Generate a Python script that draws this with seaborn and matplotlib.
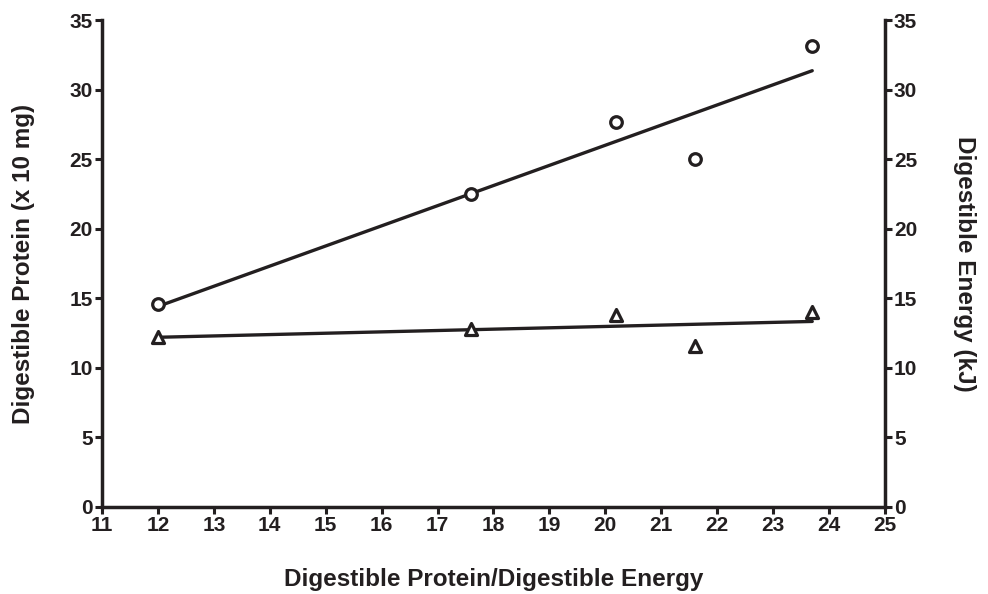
import numpy as np
import pandas as pd
import matplotlib
matplotlib.use("Agg")
import matplotlib.pyplot as plt
import seaborn as sns

# dietary DP/DE ratio and the two responses
ratio = [12.0, 17.6, 20.2, 21.6, 23.7]
protein = [14.6, 22.5, 27.7, 25.0, 33.1]   # digestible protein (x 10 mg)
energy = [12.2, 12.8, 13.8, 11.6, 14.0]    # digestible energy (kJ)
xticks = list(range(11, 26))
yticks = list(range(0, 36, 5))

ink = '#231f20'

sns.set_style("ticks")
plt.rcParams['font.family'] = ['Liberation Sans', 'DejaVu Sans']
plt.rcParams['font.weight'] = 'bold'

df = pd.DataFrame({'ratio': ratio, 'protein': protein, 'energy': energy})

fig = plt.figure(figsize=(9.88, 5.94), dpi=100)
ax = fig.add_axes([0.1032, 0.1465, 0.7925, 0.8198])
ax2 = ax.twinx()

# protein - circles, left axis
sns.regplot(data=df, x='ratio', y='protein', ax=ax, scatter=False, ci=None,
            color=ink, line_kws={'linewidth': 2.4})
sns.scatterplot(data=df, x='ratio', y='protein', ax=ax, marker='o', s=70,
                facecolor='white', edgecolor=ink, linewidth=2.3, zorder=5)

# energy - triangles, right axis
sns.regplot(data=df, x='ratio', y='energy', ax=ax2, scatter=False, ci=None,
            color=ink, line_kws={'linewidth': 2.4})
sns.scatterplot(data=df, x='ratio', y='energy', ax=ax2, marker='^', s=75,
                facecolor='white', edgecolor=ink, linewidth=2.3, zorder=5)

for a in (ax, ax2):
    a.set_xlim(11, 25)
    a.set_ylim(0, 35)
    a.set_yticks(yticks)
    for s in a.spines.values():
        s.set_linewidth(2.5)
        s.set_color(ink)
    a.spines['top'].set_visible(False)
    a.tick_params(width=2.2, length=5, color=ink, labelcolor=ink,
                  labelsize=15, pad=1.5)
ax.spines['right'].set_visible(False)
ax2.spines['left'].set_visible(False)
ax2.spines['bottom'].set_visible(False)
ax.set_xticks(xticks)

ax.set_xlabel('Digestible Protein/Digestible Energy', fontsize=17.5,
              fontweight='bold', color=ink, labelpad=24)
ax.set_ylabel('Digestible Protein (x 10 mg)', fontsize=17.5,
              fontweight='bold', color=ink, labelpad=25)
ax2.set_ylabel('Digestible Energy (kJ)', fontsize=17.5, fontweight='bold',
               color=ink, rotation=270, labelpad=42)

fig.savefig('out.png', dpi=100)
